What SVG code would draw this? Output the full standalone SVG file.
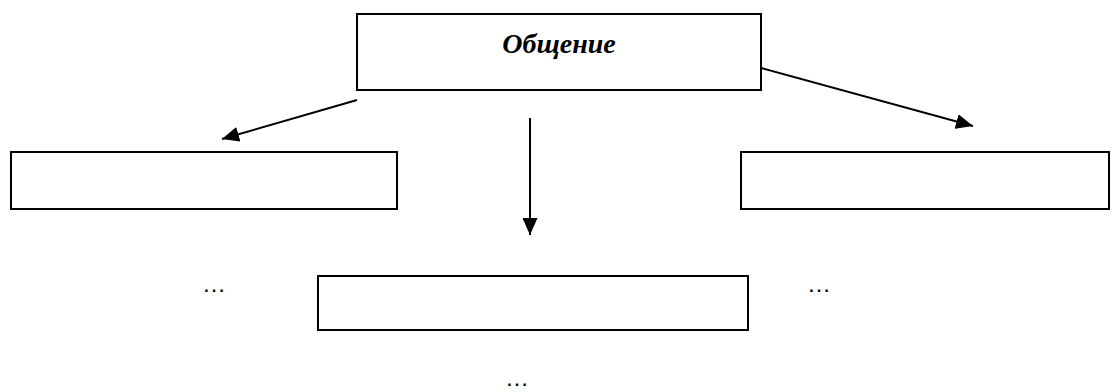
<svg xmlns="http://www.w3.org/2000/svg" width="1112" height="392" viewBox="0 0 1112 392">
<style>
.box{fill:#fff;stroke:#000;stroke-width:2}
.ln{stroke:#000;stroke-width:2;fill:none}
.t{font-family:"Liberation Serif",serif;font-weight:bold;font-style:italic;font-size:28px}
.d{font-family:"Liberation Sans",sans-serif;font-size:24px}
</style>
<defs>
<marker id="ah" markerWidth="17" markerHeight="15" refX="17" refY="7.5" orient="auto" markerUnits="userSpaceOnUse" viewBox="0 0 17 15">
<path d="M0,0 L17,7.5 L0,15 z" fill="#000"/>
</marker>
</defs>
<rect width="1112" height="392" fill="#fff"/>
<g id="connectors">
<line class="ln" x1="357" y1="100" x2="222" y2="139" marker-end="url(#ah)"/>
<line class="ln" x1="761" y1="68" x2="973" y2="126" marker-end="url(#ah)"/>
<line class="ln" x1="530" y1="118" x2="530" y2="235" marker-end="url(#ah)"/>
</g>
<g id="node-top">
<rect class="box" x="357" y="14" width="404" height="76"/>
<text class="t" x="559" y="53" text-anchor="middle">Общение</text>
</g>
<g id="node-left"><rect class="box" x="11" y="152" width="386" height="57"/></g>
<g id="node-right"><rect class="box" x="741" y="152" width="368" height="57"/></g>
<g id="node-bottom"><rect class="box" x="318" y="276" width="430" height="54"/></g>
<g id="dots">
<text class="d" x="214" y="292" text-anchor="middle">…</text>
<text class="d" x="819" y="292" text-anchor="middle">…</text>
<text class="d" x="517" y="386" text-anchor="middle">…</text>
</g>
</svg>
